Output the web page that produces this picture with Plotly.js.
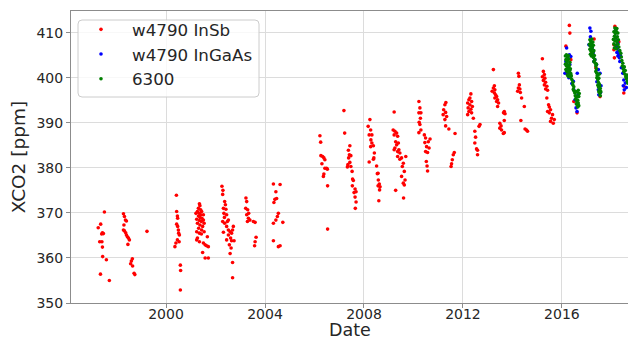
<!DOCTYPE html>
<html>
<head>
<meta charset="utf-8">
<script src="https://cdn.plot.ly/plotly-3.0.1.min.js"></script>
<style>
html,body{margin:0;padding:0;background:#fff;}
#chart{width:628px;height:338px;}
</style>
</head>
<body>
<div id="chart"></div>
<script>
// ---- data (decimal year, XCO2 ppm) ----
const insbYear = [
 1997.26,1997.36,1997.51,1997.40,1997.43,1997.47,1997.32,1997.41,1997.43,1997.44,1997.59,1997.35,1997.71,
 1998.28,1998.32,1998.36,1998.40,1998.30,1998.28,1998.32,1998.37,1998.40,1998.44,1998.48,1998.52,1998.46,1998.64,1998.60,1998.57,1998.65,1998.71,1998.74,
 1999.23,
 2000.42,2000.43,2000.47,2000.46,2000.43,2000.47,2000.50,2000.51,2000.54,2000.46,2000.40,2000.36,2000.53,2000.58,2000.59,2000.58,
 2001.35,2001.37,2001.31,2001.40,2001.27,2001.35,2001.44,2001.51,2001.31,2001.37,2001.45,2001.24,2001.35,2001.43,2001.51,2001.27,2001.37,2001.48,2001.32,2001.44,2001.54,2001.24,2001.35,2001.43,2001.27,2001.24,2001.35,2001.51,2001.58,2001.64,2001.71,2001.48,2001.58,2001.71,2001.67,2001.54,2001.21,2001.40,
 2002.26,2002.30,2002.29,2002.37,2002.40,2002.32,2002.42,2002.34,2002.45,2002.36,2002.29,2002.48,2002.37,2002.45,2002.52,2002.59,2002.65,2002.72,2002.69,2002.32,2002.52,2002.61,2002.45,2002.65,2002.75,2002.56,2002.63,2002.59,2002.69,2002.69,2002.52,
 2003.23,2003.26,2003.22,2003.30,2003.26,2003.34,2003.33,2003.29,2003.39,2003.53,2003.60,2003.64,2003.60,2003.58,
 2004.34,2004.61,2004.44,2004.40,2004.36,2004.47,2004.54,2004.50,2004.44,2004.34,2004.72,2004.34,2004.54,2004.61,
 2006.22,2006.25,2006.26,2006.33,2006.38,2006.42,2006.30,2006.42,2006.49,2006.52,2006.38,2006.36,2006.53,2006.53,
 2007.19,2007.22,2007.43,2007.37,2007.41,2007.47,2007.38,2007.43,2007.35,2007.33,2007.47,2007.52,2007.54,2007.57,2007.53,2007.64,2007.68,2007.60,2007.64,2007.68,2007.65,
 2008.24,2008.17,2008.27,2008.32,2008.21,2008.28,2008.32,2008.38,2008.27,2008.42,2008.40,2008.38,2008.21,2008.51,2008.54,2008.57,2008.58,2008.62,2008.65,2008.57,2008.63,2008.60,
 2009.22,2009.18,2009.25,2009.32,2009.22,2009.36,2009.28,2009.39,2009.32,2009.25,2009.41,2009.36,2009.22,2009.45,2009.36,2009.52,2009.69,2009.45,2009.59,2009.55,2009.63,2009.52,2009.66,2009.59,2009.63,2009.28,2009.60,
 2010.22,2010.26,2010.22,2010.30,2010.28,2010.23,2010.26,2010.30,2010.22,2010.44,2010.49,2010.60,2010.67,2010.46,2010.53,2010.63,2010.49,2010.57,2010.52,2010.55,2010.57,
 2011.27,2011.22,2011.30,2011.20,2011.34,2011.27,2011.30,2011.43,2011.68,2011.65,2011.61,2011.57,2011.54,2011.52,2011.31,
 2012.32,2012.28,2012.24,2012.35,2012.19,2012.28,2012.38,2012.21,2012.32,2012.24,2012.35,2012.19,2012.42,2012.69,2012.65,2012.48,2012.51,2012.48,2012.55,2012.59,2012.59,
 2013.23,2013.27,2013.23,2013.29,2013.18,2013.27,2013.32,2013.36,2013.29,2013.40,2013.36,2013.44,2013.40,2013.67,2013.70,2013.64,2013.67,2013.49,2013.54,2013.49,2013.56,2013.67,2013.63,
 2014.24,2014.26,2014.28,2014.24,2014.30,2014.21,2014.32,2014.37,2014.48,2014.34,2014.51,2014.57,2014.61,
 2015.21,2015.25,2015.29,2015.21,2015.31,2015.25,2015.34,2015.29,2015.39,2015.34,2015.42,2015.39,2015.46,2015.49,2015.54,2015.49,2015.62,2015.58,2015.69,2015.65,2015.54,2015.42,
 2016.30,2016.32,2016.16,2016.19,2016.61,2016.24,2016.48,2016.36,
 2017.30,2017.21,2017.54,2017.37,
 2018.14,2018.10,2018.10,2018.12,2018.50,2018.51,2018.30
];
const insbXco2 = [
 366.7,367.5,370.2,365.3,365.6,365.4,363.6,363.6,362.4,360.3,359.6,356.4,355.0,
 369.8,369.2,368.4,368.2,367.3,366.2,366.0,365.6,365.1,364.7,364.4,364.0,363.0,359.8,359.3,358.7,358.2,356.6,356.3,
 365.9,
 373.9,370.3,368.8,369.3,367.5,367.0,366.2,365.5,365.1,364.0,363.3,362.5,363.6,358.4,357.2,352.9,
 372.0,371.6,371.0,370.7,370.3,369.9,370.3,369.6,369.3,369.0,368.8,368.6,368.3,368.1,368.4,367.7,367.3,367.0,366.6,366.2,365.8,365.8,365.5,365.3,364.4,364.0,363.6,363.3,362.9,362.7,362.5,361.2,360.0,360.0,364.7,367.7,369.9,369.6,
 375.9,375.0,374.1,372.5,371.8,371.0,370.8,369.9,369.6,369.0,368.1,368.1,367.7,367.0,366.2,365.8,365.5,367.0,366.2,365.7,365.1,364.4,364.0,363.8,363.8,362.9,362.2,361.0,359.0,355.6,368.4,
 373.3,372.5,371.0,370.7,369.6,369.9,368.8,368.1,368.4,368.1,367.9,364.6,363.6,362.7,
 376.4,376.3,374.7,373.0,372.3,373.2,369.9,369.2,368.4,367.7,367.9,363.8,362.5,362.7,
 387.1,385.7,382.7,382.5,382.2,381.8,380.9,379.9,379.9,379.7,378.6,378.1,376.0,366.4,
 392.7,387.7,384.9,383.9,382.9,382.7,382.2,381.2,380.7,380.2,380.3,379.2,377.5,377.2,376.0,375.3,374.7,374.5,373.5,372.4,371.0,
 390.7,389.2,388.4,387.3,387.3,386.2,385.5,384.9,384.7,383.3,382.2,381.9,381.3,380.4,378.7,378.8,377.3,376.4,375.8,376.0,375.1,372.7,
 392.4,388.4,388.1,387.7,387.3,387.0,385.8,385.5,385.1,384.4,384.0,383.6,384.0,383.3,382.5,382.2,382.5,381.9,381.0,380.3,379.2,378.1,377.3,376.6,376.2,375.0,373.3,
 394.7,393.3,392.2,392.2,391.0,390.1,389.6,388.4,387.8,387.3,386.6,385.8,386.4,385.6,384.7,384.4,383.6,383.4,381.4,380.4,379.3,
 394.0,392.9,392.3,391.8,391.4,390.7,389.3,388.6,387.6,383.4,382.9,381.8,380.9,380.3,394.5,
 396.4,395.5,395.1,394.7,394.4,394.0,393.6,393.3,393.0,392.5,392.2,391.8,391.0,389.6,389.2,388.1,386.8,385.5,384.2,383.9,382.9,
 401.8,398.2,397.7,397.3,397.0,396.6,396.2,395.8,395.5,395.1,394.7,394.4,393.6,392.5,392.0,392.2,390.5,389.9,389.3,388.8,388.4,387.8,387.6,
 401.0,400.3,398.4,397.7,397.5,397.0,396.7,395.5,393.6,390.5,388.6,388.4,388.1,
 404.2,401.4,400.7,400.2,399.9,399.4,399.0,398.4,398.1,397.5,397.2,395.5,394.0,393.5,392.9,392.2,391.8,391.0,390.7,389.9,390.3,392.5,
 411.6,409.9,407.0,401.0,392.2,402.2,394.7,404.0,
 408.6,405.6,395.8,402.2,
 411.4,407.3,406.2,404.4,396.6,398.1,408.0
];

const ingaasYear = [
 2016.19,2016.30,2016.36,2016.12,2016.20,2016.26,2016.62,2016.46,2016.32,2016.16,2016.53,2016.57,2016.61,2016.61,2016.48,2016.65,2016.28,2016.40,
 2017.13,2017.17,2017.22,2017.26,2017.33,2017.40,2017.47,2017.54,2017.47,2017.49,2017.56,2017.09,2017.29,2017.41,2017.58,2017.15,
 2018.18,2018.22,2018.26,2018.20,2018.24,2018.28,2018.30,2018.26,2018.32,2018.34,2018.36,2018.22,2018.46,2018.50,2018.48,2018.52,2018.56,2018.60,2018.16,2018.40
];
const ingaasXco2 = [
 406.6,405.1,404.7,401.0,401.8,400.7,401.0,399.2,402.9,403.6,395.1,393.3,392.5,394.2,397.3,396.2,400.0,398.7,
 411.0,410.3,406.6,405.5,404.0,402.9,401.8,401.0,397.3,396.2,396.7,407.3,403.6,399.1,398.2,409.1,
 409.0,408.2,407.6,407.0,406.5,405.8,405.2,404.8,404.4,403.6,404.9,405.6,401.0,399.5,398.2,397.3,398.8,397.8,410.4,402.2
];

const g6300Year = [
 2016.14,2016.18,2016.22,2016.26,2016.16,2016.20,2016.24,2016.28,2016.32,2016.14,2016.18,2016.22,2016.26,2016.30,2016.34,2016.16,2016.20,2016.24,2016.28,2016.32,2016.36,2016.22,2016.26,2016.30,2016.34,2016.38,2016.40,2016.44,
 2016.44,2016.48,2016.46,2016.50,2016.52,2016.56,2016.54,2016.58,2016.62,2016.56,2016.60,2016.64,2016.66,2016.62,2016.58,2016.68,2016.64,2016.70,2016.66,2016.62,2016.68,
 2017.13,2017.17,2017.21,2017.25,2017.11,2017.15,2017.19,2017.23,2017.27,2017.13,2017.17,2017.21,2017.25,2017.29,2017.15,2017.19,2017.23,2017.27,2017.31,2017.33,2017.29,2017.35,2017.37,2017.39,2017.37,2017.41,2017.43,2017.41,2017.45,2017.49,2017.47,2017.51,2017.45,2017.49,2017.53,2017.51,2017.55,2017.49,2017.53,2017.57,2017.55,2017.51,2017.39,
 2018.14,2018.18,2018.22,2018.10,2018.16,2018.20,2018.26,2018.12,2018.18,2018.24,2018.08,2018.14,2018.22,2018.28,2018.10,2018.16,2018.26,2018.12,2018.20,2018.30,2018.34,2018.38,2018.40,2018.42,2018.46,2018.44,2018.48,2018.52,2018.50,2018.54,2018.56,2018.58,2018.60,2018.62,2018.64,2018.66,2018.68,2018.70
];
const g6300Xco2 = [
 404.8,405.1,404.6,404.9,404.0,403.6,403.9,404.2,403.4,403.0,402.6,402.9,402.3,402.7,402.0,401.8,401.4,401.9,401.2,401.6,400.9,400.6,400.3,400.8,400.1,400.4,399.6,399.0,
 398.4,398.0,397.4,397.0,396.6,396.9,396.0,395.6,395.9,395.2,394.8,395.0,394.4,394.0,394.2,393.8,393.5,396.5,397.2,396.8,395.8,
 408.4,408.0,408.6,407.9,407.4,407.0,407.5,406.8,407.2,406.3,405.9,406.4,405.6,406.0,405.2,404.8,405.0,404.5,404.9,404.0,403.6,403.2,402.6,402.0,401.4,401.0,400.5,400.0,399.6,399.9,399.0,398.6,398.3,397.9,398.2,397.3,397.6,396.9,396.5,396.9,396.0,400.8,403.0,
 411.0,410.6,410.9,410.2,409.8,410.2,409.9,409.2,408.8,409.1,408.5,408.2,408.0,408.4,407.5,407.2,407.4,406.6,406.4,406.8,406.0,405.4,404.6,403.8,403.2,402.6,402.0,402.4,401.4,400.8,401.6,400.2,399.8,400.6,399.2,398.8,400.0,399.0
];

const seriesNames = ['w4790 InSb', 'w4790 InGaAs', '6300'];
const xTickVals = [2000, 2004, 2008, 2012, 2016];
const xTickText = ['2000', '2004', '2008', '2012', '2016'];
const yTickVals = [350, 360, 370, 380, 390, 400, 410];
const xTitle = 'Date';
const yTitle = 'XCO2 [ppm]';

const FONT = 'DejaVu Sans, Liberation Sans, sans-serif';
const mk = (c) => ({color: c, size: 3.6, line: {width: 0}});

// plot-area geometry in pixels (for legend box / title placement)
const PL = 71, PR = 628, PT = 11, PB = 303;
const px2x = (p) => (p - PL) / (PR - PL);
const py2y = (p) => (PB - p) / (PB - PT);

// rounded legend frame
const bx0 = px2x(78), bx1 = px2x(259), byT = py2y(20), byB = py2y(97);
const rx = 4 / (PR - PL), ry = 4 / (PB - PT);
const framePath =
  `M ${bx0+rx},${byT} L ${bx1-rx},${byT} Q ${bx1},${byT} ${bx1},${byT-ry} ` +
  `L ${bx1},${byB+ry} Q ${bx1},${byB} ${bx1-rx},${byB} ` +
  `L ${bx0+rx},${byB} Q ${bx0},${byB} ${bx0},${byB+ry} ` +
  `L ${bx0},${byT-ry} Q ${bx0},${byT} ${bx0+rx},${byT} Z`;

const traces = [
  {x: insbYear, y: insbXco2, name: seriesNames[0], type: 'scatter', mode: 'markers', marker: mk('#ff0000')},
  {x: ingaasYear, y: ingaasXco2, name: seriesNames[1], type: 'scatter', mode: 'markers', marker: mk('#0000ff')},
  {x: g6300Year, y: g6300Xco2, name: seriesNames[2], type: 'scatter', mode: 'markers', marker: mk('#008000')}
];

const layout = {
  width: 628, height: 338,
  margin: {l: PL, r: 628 - PR, t: PT, b: 338 - PB, pad: 0},
  paper_bgcolor: '#ffffff', plot_bgcolor: '#ffffff',
  font: {family: FONT, color: '#262626'},
  showlegend: true,
  shapes: [{
    type: 'path', xref: 'paper', yref: 'paper', path: framePath, layer: 'above',
    fillcolor: 'rgba(255,255,255,0.8)', line: {color: '#cccccc', width: 1}
  }],
  annotations: [{
    text: xTitle, xref: 'paper', yref: 'paper', x: px2x(350), y: py2y(329.5),
    xanchor: 'center', yanchor: 'middle', showarrow: false, borderpad: 0,
    font: {family: FONT, size: 17.5, color: '#262626'}
  }],
  legend: {
    x: px2x(70), y: py2y(12), xanchor: 'left', yanchor: 'top',
    bgcolor: 'rgba(0,0,0,0)', borderwidth: 0,
    font: {family: FONT, size: 16.7, color: '#262626'},
    itemsizing: 'trace', itemwidth: 52, tracegroupgap: 0
  },
  xaxis: {
    range: [1996.16, 2018.67], tickmode: 'array', tickvals: xTickVals, ticktext: xTickText,
    showgrid: true, gridcolor: '#dcdcdc', gridwidth: 1, zeroline: false,
    showline: true, linecolor: '#8c8c8c', linewidth: 1, mirror: true,
    ticks: 'outside', ticklen: 4, tickcolor: '#8c8c8c', ticklabelstandoff: -6,
    tickfont: {family: FONT, size: 14, color: '#262626'}
  },
  yaxis: {
    range: [350, 414.8], tickmode: 'array', tickvals: yTickVals,
    showgrid: true, gridcolor: '#dcdcdc', gridwidth: 1, zeroline: false,
    showline: true, linecolor: '#8c8c8c', linewidth: 1, mirror: false,
    ticks: 'outside', ticklen: 4, tickcolor: '#8c8c8c',
    tickfont: {family: FONT, size: 14, color: '#262626'},
    title: {text: yTitle, font: {family: FONT, size: 18.5, color: '#262626'}, standoff: 5}
  }
};

Plotly.newPlot('chart', traces, layout, {staticPlot: true, displayModeBar: false});
</script>
</body>
</html>
